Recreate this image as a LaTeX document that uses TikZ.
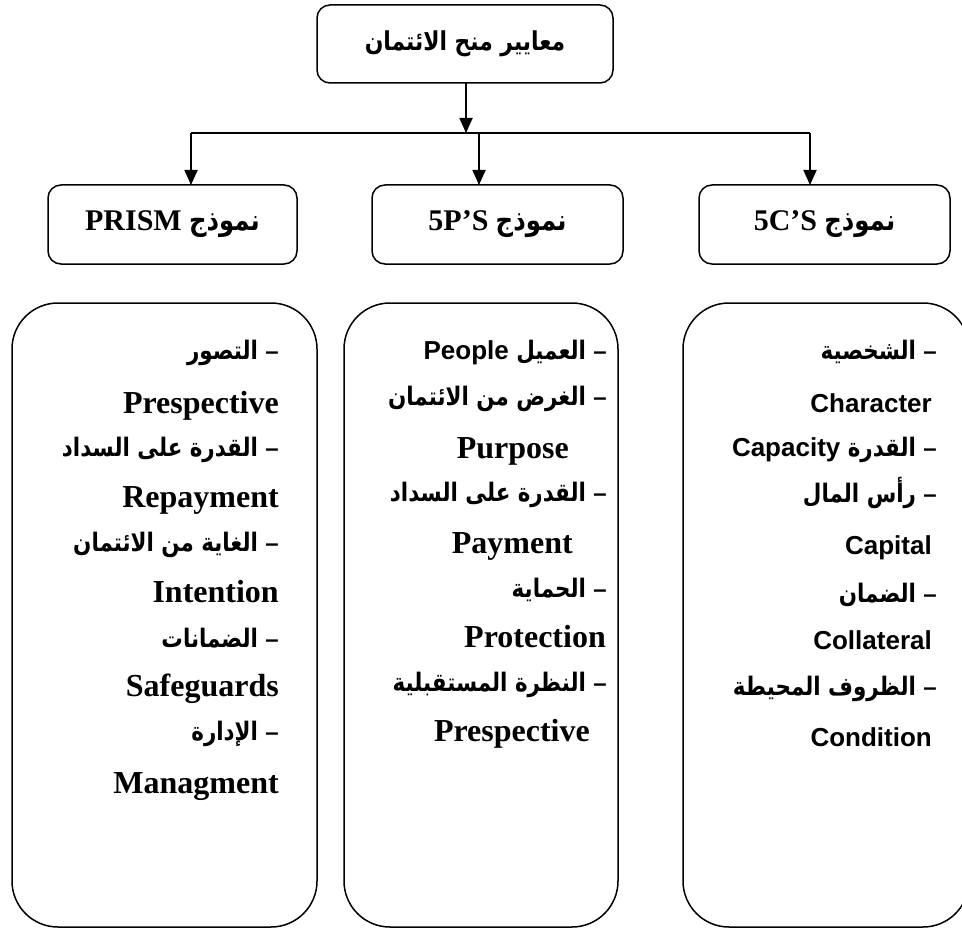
\documentclass[tikz,border=0pt]{standalone}
\usepackage{fontspec}
\setmainfont{Liberation Serif}
\newfontfamily\arabicfont[Script=Arabic,FakeStretch=0.84]{DejaVu Sans}
\newfontfamily\sansfont{Liberation Sans}
\TeXXeTstate=1
\usetikzlibrary{arrows.meta}
\newcommand\dsh{{\sansfont\bfseries\fontsize{24}{28}\selectfont –}}
\tikzset{
  box/.style={draw, line width=1.5pt, rounded corners=13pt, inner sep=0pt, outer sep=0pt},
  bigbox/.style={draw, line width=1.5pt, rounded corners=46pt, inner sep=0pt, outer sep=0pt},
  arr/.style={line width=1.8pt, -{Triangle[length=15pt,width=13pt]}},
  conn/.style={line width=1.8pt},
  arl/.style={anchor=mid east, inner sep=0pt, font=\arabicfont\bfseries\fontsize{25.5}{28}\selectfont},
  serl/.style={anchor=mid east, inner sep=0pt, font=\bfseries\fontsize{32}{36}\selectfont},
  sanl/.style={anchor=mid east, inner sep=0pt, font=\sansfont\bfseries\fontsize{26}{30}\selectfont},
}
\begin{document}
\begin{tikzpicture}[x=1pt,y=-1pt]
\useasboundingbox (0,0) rectangle (962,931);
\clip (0,0) rectangle (962,931);
% top box
\node[box, minimum width=296pt, minimum height=78pt] (top) at (465,44)
  {\arabicfont\bfseries\fontsize{26}{30}\selectfont\beginR معايير منح الائتمان\endR};
% second row
\node[box, minimum width=249pt, minimum height=79pt] (m3) at (172.5,224.5)
  {\fontsize{29}{32}\selectfont\beginR{\arabicfont\bfseries نموذج} {\bfseries\fontsize{30}{34}\selectfont PRISM}\endR};
\node[box, minimum width=251pt, minimum height=79pt] (m2) at (497.5,224.5)
  {\fontsize{29}{32}\selectfont\beginR{\arabicfont\bfseries نموذج} {\bfseries\fontsize{30}{34}\selectfont 5P’S}\endR};
\node[box, minimum width=251pt, minimum height=79pt] (m1) at (824.5,224.5)
  {\fontsize{29}{32}\selectfont\beginR{\arabicfont\bfseries نموذج} {\bfseries\fontsize{30}{34}\selectfont 5C’S}\endR};
% connectors
\coordinate (j) at (466,133);
\coordinate (jl) at (191,133);
\coordinate (jm) at (479,133);
\coordinate (jr) at (810,133);
\draw[arr] (top.south -| j) -- (j);
\draw[conn] (jl) -- (jr);
\draw[arr] (jl) -- (jl |- m3.north);
\draw[arr] (jm) -- (jm |- m2.north);
\draw[arr] (jr) -- (jr |- m1.north);
% bottom boxes
\node[bigbox, minimum width=305pt, minimum height=624pt] (b3) at (164.5,615) {};
\node[bigbox, minimum width=274pt, minimum height=624pt] (b2) at (481,615) {};
\node[bigbox, minimum width=286pt, minimum height=624pt] (b1) at (826,615) {};
% right box (5C'S)
\node[arl] (r1) at (937,357) {\beginR\dsh{} الشخصية\endR};
\node[sanl] (r2) at (932,410) {Character};
\node[arl] (r3) at (937,454) {\beginR\dsh{} القدرة {\sansfont\bfseries\fontsize{26}{30}\selectfont Capacity}\endR};
\node[arl] (r4) at (937,500) {\beginR\dsh{} رأس المال\endR};
\node[sanl] (r5) at (932,552) {Capital};
\node[arl] (r6) at (937,600) {\beginR\dsh{} الضمان\endR};
\node[sanl] (r7) at (932,647) {Collateral};
\node[arl] (r8) at (937,693) {\beginR\dsh{} الظروف المحيطة\endR};
\node[sanl] (r9) at (932,744) {Condition};
% middle box (5P'S)
\node[arl] (p1) at (607,357) {\beginR\dsh{} العميل {\sansfont\bfseries\fontsize{26}{30}\selectfont People}\endR};
\node[arl] (p2) at (607,403) {\beginR\dsh{} الغرض من الائتمان\endR};
\node[serl] (p3) at (569,456) {Purpose};
\node[arl] (p4) at (607,499) {\beginR\dsh{} القدرة على السداد\endR};
\node[serl] (p5) at (573,551) {Payment};
\node[arl] (p6) at (607,595) {\beginR\dsh{} الحماية\endR};
\node[serl] (p7) at (606,645) {Protection};
\node[arl] (p8) at (607,689) {\beginR\dsh{} النظرة المستقبلية\endR};
\node[serl] (p9) at (590,739) {Prespective};
% left box (PRISM)
\node[arl] (s1) at (279,357) {\beginR\dsh{} التصور\endR};
\node[serl] (s2) at (279,411) {Prespective};
\node[arl] (s3) at (279,454) {\beginR\dsh{} القدرة على السداد\endR};
\node[serl] (s4) at (279,505) {Repayment};
\node[arl] (s5) at (279,549) {\beginR\dsh{} الغاية من الائتمان\endR};
\node[serl] (s6) at (279,600) {Intention};
\node[arl] (s7) at (279,645) {\beginR\dsh{} الضمانات\endR};
\node[serl] (s8) at (279,694) {Safeguards};
\node[arl] (s9) at (279,738) {\beginR\dsh{} الإدارة\endR};
\node[serl] (s10) at (279,791) {Managment};
\end{tikzpicture}
\end{document}
